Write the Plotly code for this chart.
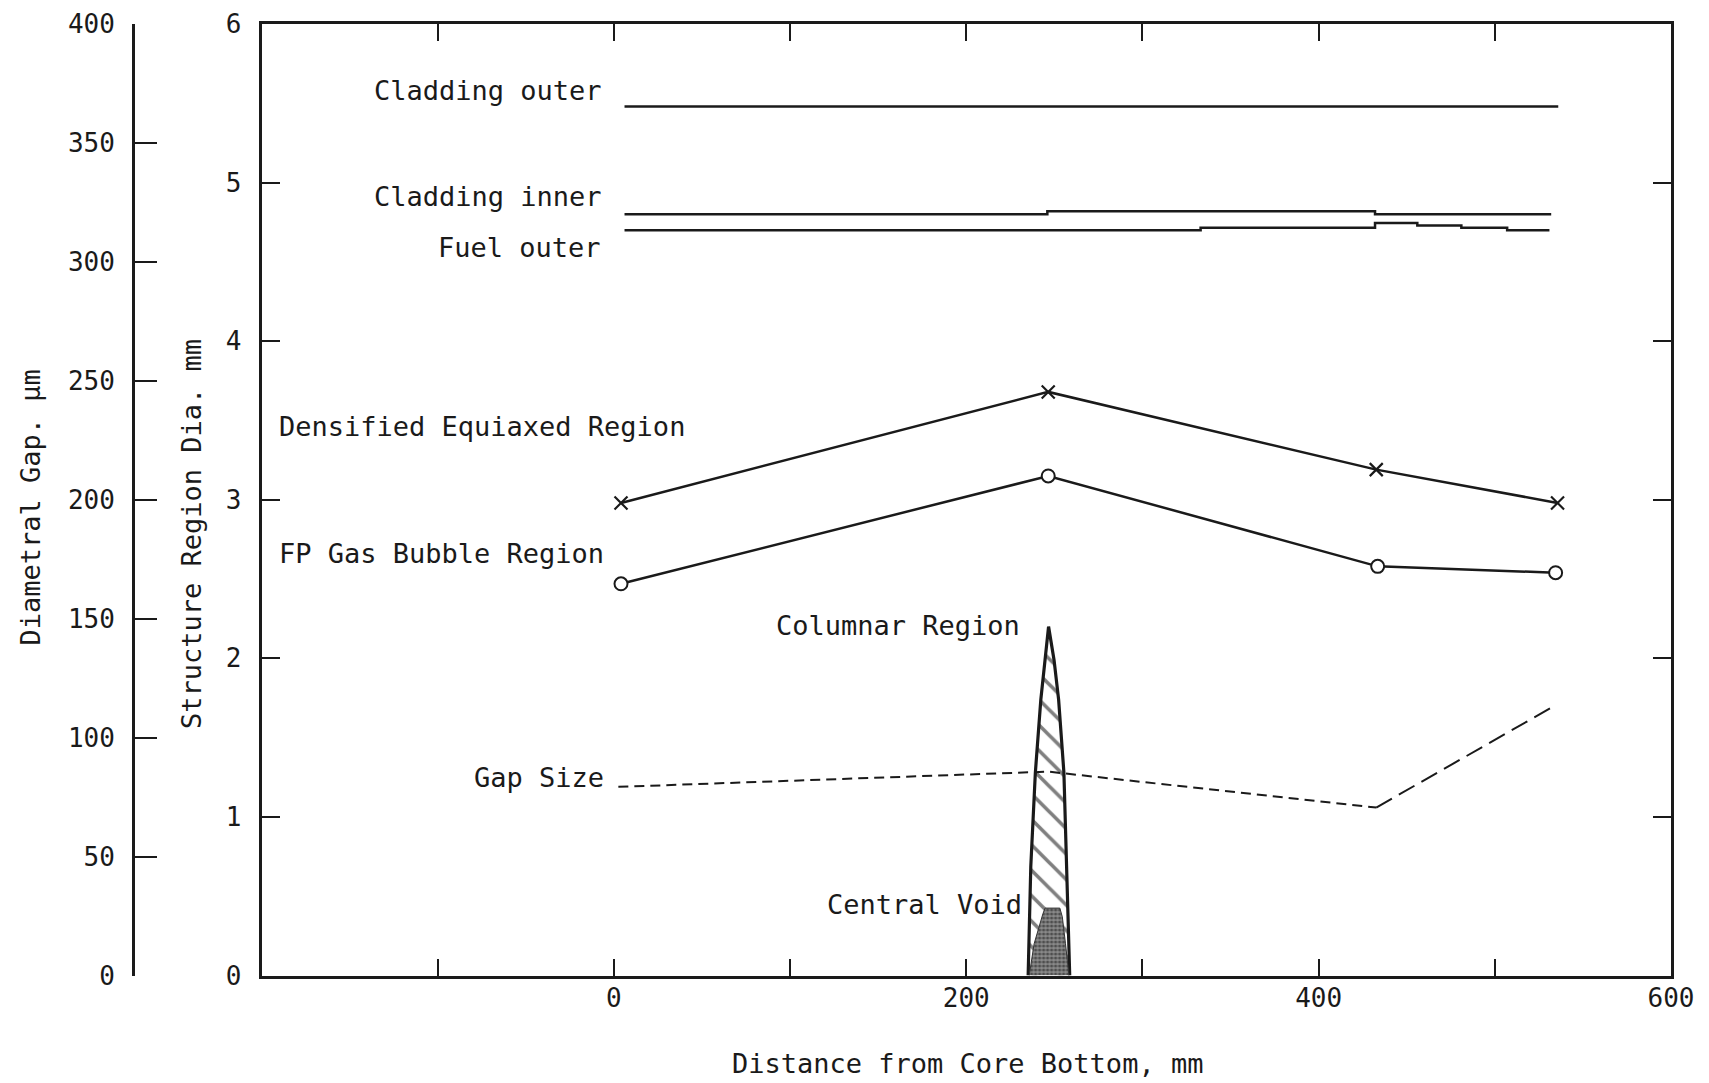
import plotly.graph_objects as go

# ---------------- data ----------------
clad_outer_x = [6, 536]
clad_outer_y = [5.48, 5.48]

clad_inner_x = [6, 246, 432, 532]
clad_inner_y = [4.80, 4.82, 4.80, 4.80]

fuel_outer_x = [6, 333, 432, 456, 481, 507, 531]
fuel_outer_y = [4.70, 4.715, 4.745, 4.73, 4.715, 4.70, 4.70]

equiax_x = [4, 246.5, 432.7, 535.6]
equiax_y = [2.98, 3.68, 3.19, 2.98]

bubble_x = [4, 246.5, 433.5, 534.5]
bubble_y = [2.47, 3.15, 2.58, 2.54]

columnar_x = [235.1, 235.6, 236.6, 239.2, 242.3, 244.7, 246.7, 249.8, 252.4, 255.4, 256.9, 258.2, 258.7]
columnar_y = [0.0, 0.30, 0.686, 1.28, 1.74, 1.99, 2.20, 1.99, 1.74, 1.28, 0.686, 0.30, 0.0]

void_x = [235.7, 238.5, 243.5, 244.7, 253.1, 254.5, 256.3, 258.3]
void_y = [0.0, 0.20, 0.39, 0.425, 0.425, 0.37, 0.20, 0.0]

gap_x = [2.5, 246.5, 432.7, 534.4]
gap_um = [79.3, 85.7, 70.6, 113.6]

x_tickvals = [-200, -100, 0, 100, 200, 300, 400, 500, 600]
x_ticktext = ["", "", "0", "", "200", "", "400", "", "600"]
y_tickvals = [0, 1, 2, 3, 4, 5, 6]
gap_tickvals = [0, 50, 100, 150, 200, 250, 300, 350, 400]

labels = [
    ("Cladding outer", -71.5, 5.58),
    ("Cladding inner", -71.5, 4.91),
    ("Fuel outer", -53.6, 4.59),
    ("Densified Equiaxed Region", -74.9, 3.46),
    ("FP Gas Bubble Region", -97.7, 2.66),
    ("Columnar Region", 161.5, 2.21),
    ("Gap Size", -42.5, 1.25),
    ("Central Void", 176.3, 0.447),
]

# ---------------- figure ----------------
FONT = "DejaVu Sans Mono"
INK = "#1a1a1a"
W, H = 1709, 1083

fig = go.Figure()

line_style = dict(color=INK, width=2.5)

fig.add_trace(go.Scatter(x=clad_outer_x, y=clad_outer_y, mode="lines",
                         line=dict(line_style, shape="hv"), showlegend=False))
fig.add_trace(go.Scatter(x=clad_inner_x, y=clad_inner_y, mode="lines",
                         line=dict(line_style, shape="hv"), showlegend=False))
fig.add_trace(go.Scatter(x=fuel_outer_x, y=fuel_outer_y, mode="lines",
                         line=dict(line_style, shape="hv"), showlegend=False))

fig.add_trace(go.Scatter(x=equiax_x, y=equiax_y, mode="lines+markers",
                         line=line_style,
                         marker=dict(symbol="x-thin-open", size=13,
                                     line=dict(color=INK, width=2.2)),
                         showlegend=False))
fig.add_trace(go.Scatter(x=bubble_x, y=bubble_y, mode="lines+markers",
                         line=line_style,
                         marker=dict(symbol="circle", size=13, color="white",
                                     line=dict(color=INK, width=2)),
                         showlegend=False))

# columnar region (hatched spike)
fig.add_trace(go.Scatter(x=columnar_x, y=columnar_y, mode="lines",
                         fill="toself", fillcolor="white",
                         fillpattern=dict(shape="\\", fgcolor="black", bgcolor="white",
                                          size=18, solidity=0.2),
                         line=dict(color=INK, width=3.2),
                         showlegend=False))
# central void (dark stippled)
fig.add_trace(go.Scatter(x=void_x, y=void_y, mode="lines",
                         fill="toself", fillcolor="#666",
                         fillpattern=dict(shape=".", fgcolor="#111", bgcolor="#8a8a8a",
                                          size=4, solidity=0.5),
                         line=dict(color="#333", width=1),
                         showlegend=False))

# gap size (dashed, on diametral gap axis)
fig.add_trace(go.Scatter(x=gap_x[:3], y=gap_um[:3], yaxis="y2", mode="lines",
                         line=dict(color=INK, width=2, dash="10px,6px"),
                         showlegend=False))
fig.add_trace(go.Scatter(x=gap_x[2:], y=gap_um[2:], yaxis="y2", mode="lines",
                         line=dict(color=INK, width=2, dash="18px,8px"),
                         showlegend=False))

x0, x1 = 261.6 / W, 1671 / W
y0, y1 = (H - 975.5) / H, (H - 24) / H

tickfont = dict(family=FONT, size=26, color=INK)

fig.update_layout(
    width=W, height=H,
    margin=dict(l=0, r=0, t=0, b=0, autoexpand=False),
    paper_bgcolor="white", plot_bgcolor="white",
    showlegend=False,
    xaxis=dict(domain=[x0, x1], range=[-200, 600], tickmode="array",
               tickvals=x_tickvals, ticktext=x_ticktext, automargin=False,
               ticks="inside", ticklen=17, tickwidth=2.2, tickcolor=INK,
               showline=True, linewidth=2.8, linecolor=INK, mirror="ticks",
               showgrid=False, zeroline=False, tickfont=tickfont,
               ticklabelstandoff=-3),
    yaxis=dict(domain=[y0, y1], range=[0, 6], tickmode="array",
               tickvals=y_tickvals, automargin=False,
               ticks="inside", ticklen=18, tickwidth=2.2, tickcolor=INK,
               showline=True, linewidth=2.8, linecolor=INK, mirror="ticks",
               showgrid=False, zeroline=False, tickfont=tickfont,
               ticklabelstandoff=12),
    yaxis2=dict(overlaying="y", anchor="free", position=133 / W, side="left",
                range=[0, 400], tickmode="array", tickvals=gap_tickvals,
                automargin=False,
                ticks="inside", ticklen=22, tickwidth=2.2, tickcolor=INK,
                showline=True, linewidth=2.8, linecolor=INK,
                showgrid=False, zeroline=False, tickfont=tickfont,
                ticklabelstandoff=12),
)

for text, lx, ly in labels:
    fig.add_annotation(x=lx, y=ly, xref="x", yref="y", text=text,
                       showarrow=False, xanchor="center", yanchor="middle",
                       font=dict(family=FONT, size=27, color=INK))

title_font = dict(family=FONT, size=27, color=INK)
fig.add_annotation(x=30.5 / W, y=(H - 508) / H, xref="paper", yref="paper",
                   text="Diametral Gap. μm", textangle=-90, showarrow=False,
                   xanchor="center", yanchor="middle", font=title_font)
fig.add_annotation(x=191 / W, y=(H - 534) / H, xref="paper", yref="paper",
                   text="Structure Region Dia. mm", textangle=-90, showarrow=False,
                   xanchor="center", yanchor="middle", font=title_font)
fig.add_annotation(x=967 / W, y=(H - 1063) / H, xref="paper", yref="paper",
                   text="Distance from Core Bottom, mm", showarrow=False,
                   xanchor="center", yanchor="middle", font=title_font)

fig.write_html("out.html")
